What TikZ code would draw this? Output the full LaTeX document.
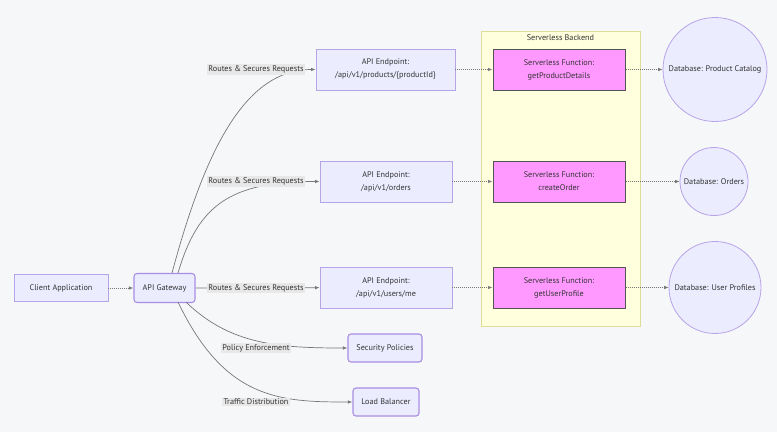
\documentclass[tikz,border=0pt]{standalone}
\usepackage{fontspec}
\setmainfont{PT Sans}
\usetikzlibrary{arrows.meta}
\definecolor{bgc}{HTML}{F6F7F9}
\definecolor{nfill}{HTML}{ECECFF}
\definecolor{nstroke}{HTML}{B7A3E8}
\definecolor{gstroke}{HTML}{9370DB}
\definecolor{ffill}{HTML}{FF99FF}
\definecolor{fstroke}{HTML}{555555}
\definecolor{cfill}{HTML}{FFFFDE}
\definecolor{cstroke}{HTML}{DDDD99}
\definecolor{txt}{HTML}{333333}
\definecolor{lbl}{HTML}{E8E8E8}
\definecolor{edge}{HTML}{777777}
\tikzset{
  base/.style={font=\fontsize{8.2}{13}\selectfont, text=txt, align=center, inner sep=0pt},
  plainbox/.style={base, draw=nstroke, fill=nfill, line width=0.9pt},
  roundbox/.style={base, draw=gstroke!80, fill=nfill, line width=1.1pt, rounded corners=3pt},
  fnbox/.style={base, draw=fstroke, fill=ffill, line width=1pt},
  dbnode/.style={base, circle, draw=nstroke, fill=nfill, line width=0.8pt},
  elabel/.style={base, fill=lbl, inner sep=1.5pt},
  conn/.style={draw=edge, line width=0.7pt, -{Latex[length=4.5pt,width=3.5pt]}},
  dotconn/.style={conn, dash pattern=on 1pt off 1pt},
  x=1pt, y=-1pt
}
\begin{document}
\begin{tikzpicture}
\useasboundingbox[fill=bgc] (0,0) rectangle (777,432);
% cluster
\node[base, draw=cstroke, fill=cfill, line width=0.9pt, minimum width=159pt, minimum height=295pt] (cl) at (560.5,178.5) {};
\node[base] (cltitle) at (560.5,38) {Serverless Backend};
% nodes
\node[plainbox, minimum width=94pt, minimum height=27pt] (client) at (61,288) {Client Application};
\node[roundbox, minimum width=61pt, minimum height=29pt] (gw) at (164.5,288) {API Gateway};
\node[plainbox, minimum width=139pt, minimum height=41pt] (e1) at (385.5,69.5) {API Endpoint:\\/api/v1/products/\{productId\}};
\node[plainbox, minimum width=132pt, minimum height=41pt] (e2) at (386,181.5) {API Endpoint:\\/api/v1/orders};
\node[plainbox, minimum width=132pt, minimum height=41pt] (e3) at (386,287.5) {API Endpoint:\\/api/v1/users/me};
\node[roundbox, minimum width=74pt, minimum height=28pt] (sec) at (385,348) {Security Policies};
\node[roundbox, minimum width=66pt, minimum height=28pt] (lb) at (386,402) {Load Balancer};
\node[fnbox, minimum width=132pt, minimum height=41pt] (f1) at (559,69.5) {Serverless Function:\\getProductDetails};
\node[fnbox, minimum width=132pt, minimum height=41pt] (f2) at (559,181.5) {Serverless Function:\\createOrder};
\node[fnbox, minimum width=132pt, minimum height=41pt] (f3) at (559,287.5) {Serverless Function:\\getUserProfile};
\node[dbnode, minimum size=104pt] (d1) at (715,69.5) {Database: Product Catalog};
\node[dbnode, minimum size=68pt] (d2) at (714,181.5) {Database: Orders};
\node[dbnode, minimum size=92pt] (d3) at (715,287.5) {Database: User Profiles};
% anchors on gateway
\coordinate (g1) at (172,273);
\coordinate (g2) at (178,273);
\coordinate (g4) at (186,302);
\coordinate (g5) at (178,302);
% edges
\draw[dotconn] (client) -- (gw);
\draw[conn] (g1) .. controls (205,150) and (245,69.5) .. (e1.west);
\draw[conn] (g2) .. controls (198,205) and (230,181.5) .. (e2.west);
\draw[conn] (gw) -- (e3);
\draw[conn] (g4) .. controls (230,345) and (280,348) .. (sec.west);
\draw[conn] (g5) .. controls (225,400) and (280,402) .. (lb.west);
\draw[dotconn] (e1) -- (f1);
\draw[dotconn] (e2) -- (f2);
\draw[dotconn] (e3) -- (f3);
\draw[dotconn] (f1) -- (d1);
\draw[dotconn] (f2) -- (d2);
\draw[dotconn] (f3) -- (d3);
% edge labels
\node[elabel] (l1) at (256,69.5) {Routes \& Secures Requests};
\node[elabel] (l2) at (256,181.5) {Routes \& Secures Requests};
\node[elabel] (l3) at (256,288) {Routes \& Secures Requests};
\node[elabel] (l4) at (256,348) {Policy Enforcement};
\node[elabel] (l5) at (256,402) {Traffic Distribution};
\end{tikzpicture}
\end{document}
